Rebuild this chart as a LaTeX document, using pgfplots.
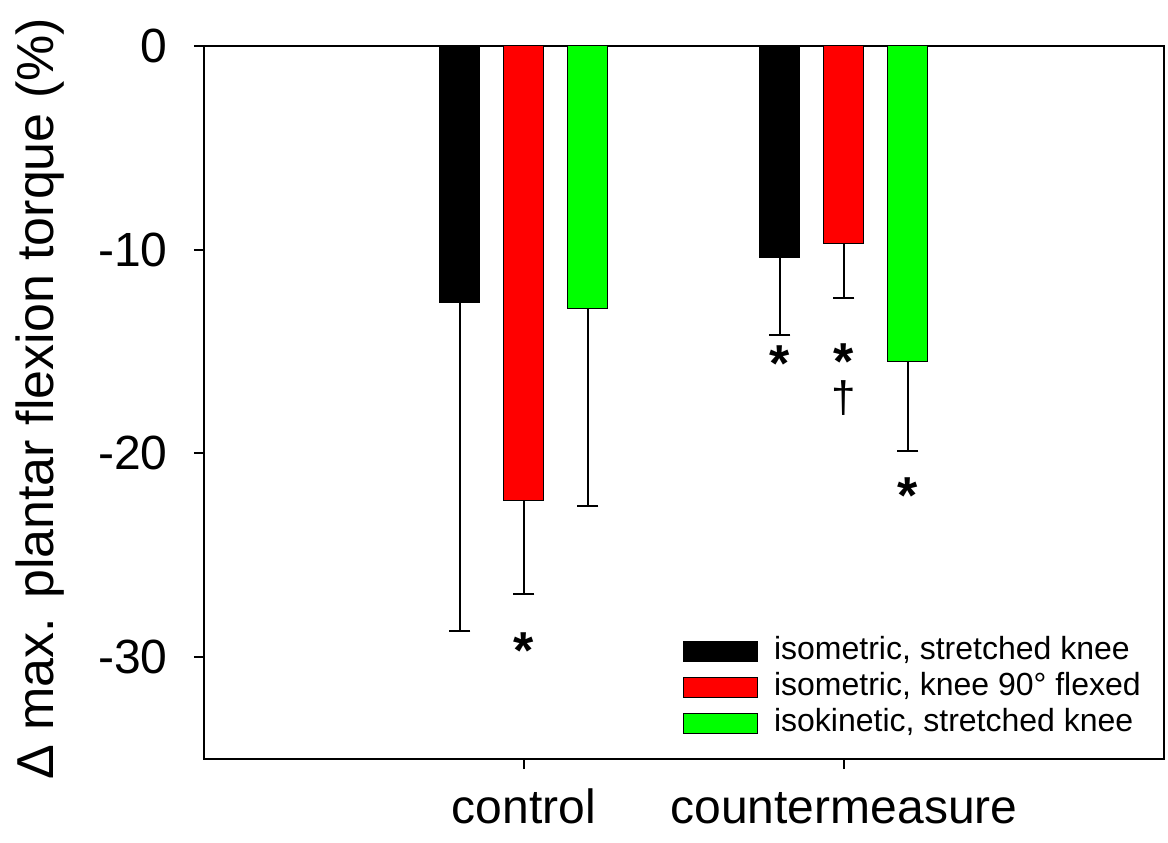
\documentclass[border=0pt]{standalone}
\usepackage{fontspec}
\setmainfont{Liberation Sans}
\usepackage{pgfplots}
\pgfplotsset{compat=1.18}
\definecolor{myred}{RGB}{255,0,0}
\definecolor{mygreen}{RGB}{0,255,0}
\pgfplotsset{
  mybar/.style={ybar, bar width=20pt, bar shift=0pt, draw=black, line width=0.5pt,
    error bars/y dir=minus, error bars/y explicit,
    error bars/error bar style={line width=1pt, black},
    error bars/error mark=-,
    error bars/error mark options={rotate=90, line width=1pt, mark size=5.25pt, black}},
}
\tikzset{star/.style={font=\fontsize{26}{26}\selectfont\bfseries, inner sep=0pt, yshift=-3.9pt}}
\begin{document}
\begin{tikzpicture}
\path[use as bounding box] (-102pt,-41.5pt) rectangle (482pt,379.5pt);
\begin{axis}[
  at={(0,0)}, anchor=south west,
  scale only axis, width=480pt, height=356.6pt,
  xmin=-1, xmax=2, ymin=-35, ymax=0,
  xtick={0,1}, xticklabels={control,countermeasure},
  ytick={-30,-20,-10,0}, yticklabels={-30,-20,-10,0},
  tick align=outside, xtick pos=bottom, ytick pos=left,
  major tick length=5pt,
  axis line style={line width=1pt},
  every tick/.style={black, line width=1pt},
  tick label style={font=\fontsize{24}{24}\selectfont},
  yticklabel style={inner sep=0pt, xshift=-13pt},
  xticklabel style={anchor=base, inner sep=0pt, yshift=-27pt},
  ylabel={Δ max. plantar flexion torque (\%)},
  ylabel style={font=\fontsize{26}{26}\selectfont, at={(axis description cs:-0.15625,0.505)}, anchor=base},
  legend cell align=left,
  legend style={draw=none, fill=none, at={(axis description cs:0.499,0.0227)}, anchor=south west,
    inner sep=0pt, outer sep=0pt, row sep=0pt, column sep=8pt,
    font=\fontsize{16}{16}\selectfont,
    nodes={inner sep=0pt, text height=11.9pt, text depth=5.9pt, anchor=base west}},
]
\addplot[mybar, fill=black,
  legend image code/.code={\draw[fill=black, draw=black, line width=0.5pt] (0pt,-1pt) rectangle (37pt,9pt);}]
  coordinates {(-0.2,-12.6) +- (0,16.1) (0.8,-10.4) +- (0,3.8)};
\addplot[mybar, fill=myred,
  legend image code/.code={\draw[fill=myred, draw=black, line width=0.5pt] (0pt,-1pt) rectangle (37pt,9pt);}]
  coordinates {(0,-22.3) +- (0,4.6) (1,-9.7) +- (0,2.7)};
\addplot[mybar, fill=mygreen,
  legend image code/.code={\draw[fill=mygreen, draw=black, line width=0.5pt] (0pt,-1pt) rectangle (37pt,9pt);}]
  coordinates {(0.2,-12.9) +- (0,9.7) (1.2,-15.5) +- (0,4.4)};
\legend{{isometric, stretched knee}, {isometric, knee 90° flexed}, {isokinetic, stretched knee}}
\node[star] at (axis cs:0,-29.31) {*};
\node[star] at (axis cs:0.8,-15.23) {*};
\node[star] at (axis cs:1,-15.13) {*};
\node[font=\fontsize{22}{22}\selectfont, inner sep=0pt] at (axis cs:1,-17.3) {†};
\node[star] at (axis cs:1.2,-21.7) {*};
\end{axis}
\end{tikzpicture}
\end{document}
